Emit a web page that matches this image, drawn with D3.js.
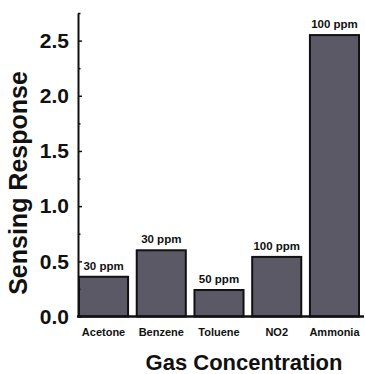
<!DOCTYPE html>
<html>
<head>
<meta charset="utf-8">
<script src="https://cdn.jsdelivr.net/npm/d3@7"></script>
<style>
  html, body { margin: 0; padding: 0; background: #fff; }
  svg { display: block; }
  text { font-family: "Liberation Sans", Arial, sans-serif; font-weight: bold; fill: #111; }
</style>
</head>
<body>
<svg id="chart" width="365" height="374"></svg>
<script>
const categories = ["Acetone", "Benzene", "Toluene", "NO2", "Ammonia"];
const responses = [0.36, 0.60, 0.24, 0.54, 2.55];
const concentrations = ["30 ppm", "30 ppm", "50 ppm", "100 ppm", "100 ppm"];
const yMajorTicks = [0, 0.5, 1.0, 1.5, 2.0, 2.5];
const yMinorTicks = [0.25, 0.75, 1.25, 1.75, 2.25, 2.75];
const yLabel = "Sensing Response";
const xLabel = "Gas Concentration";

const svg = d3.select("#chart");
const axisX = 78, baseY = 316.5, topY = 13, rightX = 364;

const y = d3.scaleLinear().domain([0, 2.75]).range([baseY, topY]);
const x = d3.scaleBand().domain(categories).range([79, 359]).paddingInner(0.15).paddingOuter(0);

// bars
svg.append("g").selectAll("rect")
  .data(categories)
  .join("rect")
  .attr("x", (d) => x(d))
  .attr("y", (d, i) => y(responses[i]))
  .attr("width", x.bandwidth())
  .attr("height", (d, i) => y(0) - y(responses[i]))
  .attr("fill", "#5c5966")
  .attr("stroke", "#111")
  .attr("stroke-width", 2);

// bar annotations
svg.append("g").selectAll("text")
  .data(categories)
  .join("text")
  .attr("x", (d) => x(d) + x.bandwidth() / 2)
  .attr("y", (d, i) => y(responses[i]) - 7)
  .attr("text-anchor", "middle")
  .attr("font-size", "11.5px")
  .text((d, i) => concentrations[i]);

// y axis (major)
const yAxis = d3.axisLeft(y)
  .tickValues(yMajorTicks)
  .tickFormat(d3.format(".1f"))
  .tickSizeInner(-4)
  .tickSizeOuter(0)
  .tickPadding(9);
const gy = svg.append("g").attr("transform", `translate(${axisX},0)`).call(yAxis);
gy.select(".domain").attr("stroke", "#111").attr("stroke-width", 2);
gy.selectAll(".tick line").attr("stroke", "#111").attr("stroke-width", 1.5);
gy.selectAll(".tick text")
  .attr("font-size", "21px")
  .attr("font-family", "Liberation Sans, Arial, sans-serif")
  .attr("font-weight", "bold")
  .attr("fill", "#111");

// y axis (minor)
const yMinor = d3.axisLeft(y).tickValues(yMinorTicks).tickFormat("").tickSizeInner(-2.5).tickSizeOuter(0);
const gym = svg.append("g").attr("transform", `translate(${axisX},0)`).call(yMinor);
gym.select(".domain").remove();
gym.selectAll(".tick line").attr("stroke", "#111").attr("stroke-width", 1.5);

// x axis line + category labels
const xAxis = d3.axisBottom(x).tickSize(0).tickPadding(12);
const gx = svg.append("g").attr("transform", `translate(0,${baseY})`).call(xAxis);
gx.select(".domain").remove();
gx.append("line").attr("x1", axisX - 1).attr("x2", rightX).attr("y1", 0).attr("y2", 0)
  .attr("stroke", "#111").attr("stroke-width", 2.5);
gx.selectAll(".tick text")
  .attr("font-size", "11px")
  .attr("font-family", "Liberation Sans, Arial, sans-serif")
  .attr("font-weight", "bold")
  .attr("fill", "#111");

// axis titles
svg.append("text")
  .attr("transform", `translate(27,183) rotate(-90)`)
  .attr("text-anchor", "middle")
  .attr("font-size", "25px")
  .text(yLabel);

svg.append("text")
  .attr("x", 244)
  .attr("y", 370)
  .attr("text-anchor", "middle")
  .attr("font-size", "22px")
  .text(xLabel);
</script>
</body>
</html>
